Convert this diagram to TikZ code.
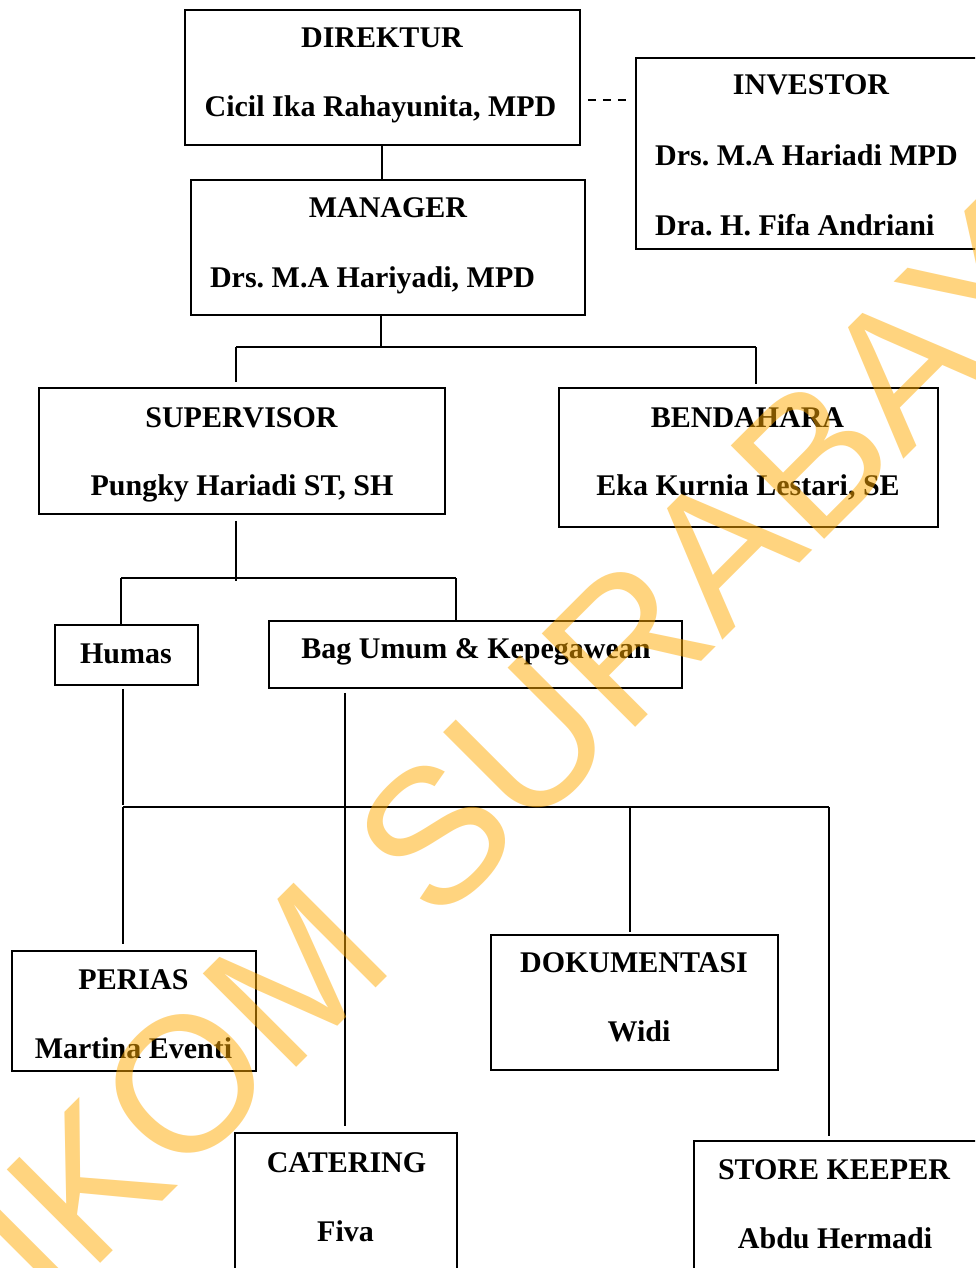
\documentclass[tikz,border=0pt]{standalone}
\usepackage{fontspec}
\setmainfont{Liberation Serif}
\newfontfamily\wmfont{Liberation Sans}
\definecolor{wmcol}{RGB}{255,170,0}
\frenchspacing
\begin{document}
\begin{tikzpicture}[x=1pt,y=-1pt,
  box/.style={draw, line width=1.7pt, rectangle, inner sep=0pt},
  txt/.style={font=\bfseries\fontsize{30}{36}\selectfont, anchor=base, inner sep=0pt},
  txtl/.style={txt, anchor=base west},
  ln/.style={line width=1.3pt},
  dsh/.style={line width=1.2pt, dash pattern=on 8pt off 7pt},
  wm/.style={font=\wmfont\fontsize{192}{192}\selectfont, text=wmcol, text opacity=0.5, rotate=45, inner sep=0pt}
]
\useasboundingbox (0,0) rectangle (975,1268);
\clip (0,0) rectangle (975,1268);
\fill[white] (0,0) rectangle (975,1268);

% boxes
\node[box, minimum width=395pt, minimum height=135pt] (dir) at (382.5,77.5) {};
\node[box, minimum width=380pt, minimum height=191pt] (inv) at (826,153.5) {};
\node[box, minimum width=394pt, minimum height=135pt] (mgr) at (388,247.5) {};
\node[box, minimum width=406pt, minimum height=126pt] (sup) at (242,451) {};
\node[box, minimum width=379pt, minimum height=139pt] (ben) at (748.5,457.5) {};
\node[box, minimum width=143pt, minimum height=60pt] (hum) at (126.5,655) {};
\node[box, minimum width=413pt, minimum height=67pt] (bag) at (475.5,654.5) {};
\node[box, minimum width=244pt, minimum height=120pt] (per) at (134,1011) {};
\node[box, minimum width=287pt, minimum height=135pt] (dok) at (634.5,1002.5) {};
\node[box, minimum width=222pt, minimum height=170pt] (cat) at (346,1218) {};
\node[box, minimum width=320pt, minimum height=170pt] (sto) at (854,1226) {};

% texts
\node[txt] (t1) at (382,48) {DIREKTUR};
\node[txt] (t2) at (380.5,117) {Cicil Ika Rahayunita, MPD};
\node[txt] (t3) at (811,95) {INVESTOR};
\node[txtl] (t4) at (655,166) {Drs. M.A Hariadi MPD};
\node[txtl] (t5) at (655,235) {Dra. H. Fifa Andriani};
\node[txt] (t6) at (388,218) {MANAGER};
\node[txt] (t7) at (372.5,287) {Drs. M.A Hariyadi, MPD};
\node[txt] (t8) at (241.5,427) {SUPERVISOR};
\node[txt] (t9) at (242,495) {Pungky Hariadi ST, SH};
\node[txt] (t10) at (747.5,427) {BENDAHARA};
\node[txt] (t11) at (748,495) {Eka Kurnia Lestari, SE};
\node[txt] (t12) at (126,663) {Humas};
\node[txt] (t13) at (476,658) {Bag Umum \& Kepegawean};
\node[txt] (t14) at (133.5,989) {PERIAS};
\node[txt] (t15) at (133.5,1058) {Martina Eventi};
\node[txt] (t16) at (634,972) {DOKUMENTASI};
\node[txt] (t17) at (639,1041) {Widi};
\node[txt] (t18) at (346.5,1172) {CATERING};
\node[txt] (t19) at (345.5,1241) {Fiva};
\node[txt] (t20) at (834,1179) {STORE KEEPER};
\node[txt] (t21) at (835,1248) {Abdu Hermadi};

% junction coordinates
\coordinate (m1) at (381,347);
\coordinate (m1L) at (236,347);
\coordinate (m1R) at (756,347);
\coordinate (s1) at (236,578);
\coordinate (s1L) at (121,578);
\coordinate (s1R) at (456,578);
\coordinate (h1) at (123,807);
\coordinate (h1D) at (630,807);
\coordinate (h1R) at (829,807);
\coordinate (b1) at (345,807);

% connectors
\draw[ln] (dir.south -| 382,0) -- (mgr.north -| 382,0);
\draw[dsh] ([xshift=7pt]dir.east |- 0,100) -- ([xshift=-6pt]inv.west |- 0,100);
\draw[ln] (mgr.south -| m1) -- (m1);
\draw[ln] (m1L) -- (m1R);
\draw[ln] (m1L) -- ([yshift=5pt]sup.north -| m1L);
\draw[ln] (m1R) -- ([yshift=3pt]ben.north -| m1R);
\draw[ln] ([yshift=-6pt]sup.south -| s1) -- ([yshift=-3pt]s1);
\draw[ln] (s1L) -- (s1R);
\draw[ln] (s1L) -- (hum.north -| s1L);
\draw[ln] (s1R) -- (bag.north -| s1R);
\draw[ln] ([yshift=-3pt]hum.south -| h1) -- ([yshift=2pt]h1);
\draw[ln] ([yshift=-4pt]bag.south -| b1) -- ([yshift=6pt]cat.north -| b1);
\draw[ln] (h1) -- (h1R);
\draw[ln] (h1) -- ([yshift=6pt]per.north -| h1);
\draw[ln] (h1D) -- ([yshift=2pt]dok.north -| h1D);
\draw[ln] (h1R) -- ([yshift=4pt]sto.north -| h1R);

% watermark
\node[wm] (wmark) at (470,800) {STIKOM SURABAYA};
\end{tikzpicture}
\end{document}
